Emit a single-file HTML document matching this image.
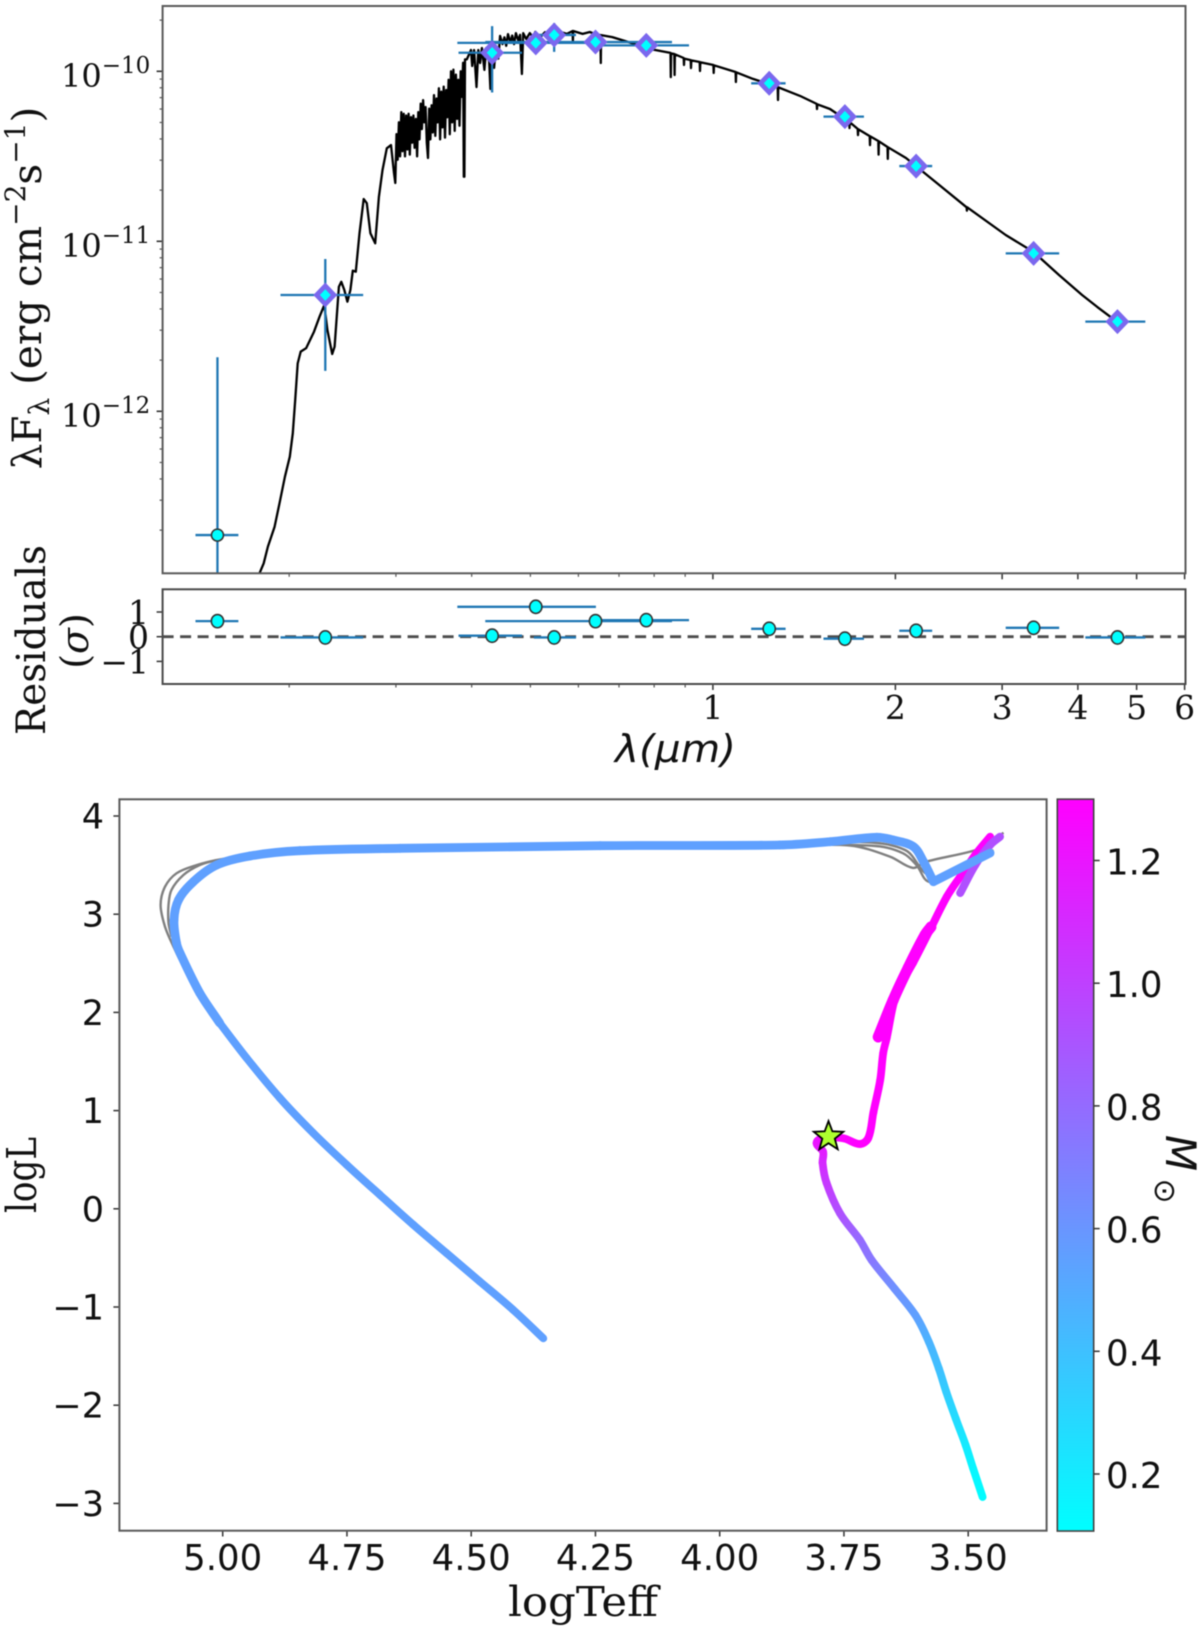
<!DOCTYPE html>
<html lang="en">
<head>
<meta charset="utf-8">
<title>SED fit and HR diagram</title>
<style>
html,body{margin:0;padding:0;background:#fff;width:1200px;height:1632px;overflow:hidden}
svg{display:block;filter:blur(0.6px)}
.serif{font-family:"DejaVu Serif","Liberation Serif",serif;fill:#111}
.sans{font-family:"DejaVu Sans","Liberation Sans",sans-serif;fill:#111}
</style>
</head>
<body>
<svg id="figure" xmlns="http://www.w3.org/2000/svg" width="1200" height="1632" viewBox="0 0 1200 1632">
<defs>
<clipPath id="sed-clip"><rect x="162.6" y="6" width="1022.9" height="567.3"/></clipPath>
<linearGradient id="cbar-gradient" x1="0" y1="1" x2="0" y2="0"><stop offset="0" stop-color="#00ffff"/><stop offset="1" stop-color="#ff00ff"/></linearGradient>
</defs>
<rect x="0" y="0" width="1200" height="1632" fill="#fff"/>
<g id="sed-layer"></g>
<g id="res-layer"></g>
<g id="hr-layer"></g>
<g id="cbar-layer"></g>

<rect x="162.6" y="6" width="1022.9" height="567.3" fill="none" stroke="#5a5a5a" stroke-width="2"/>
<rect x="162.6" y="589.3" width="1022.9" height="94.7" fill="none" stroke="#4a4a4a" stroke-width="2"/>
<rect x="119.4" y="799.3" width="927.2" height="731.4" fill="none" stroke="#5a5a5a" stroke-width="2"/>

<text class="serif" font-size="40.5" text-anchor="middle" transform="translate(41,288) rotate(-90)">λF<tspan font-size="28" dy="8">λ</tspan><tspan dy="-8"> (erg cm</tspan><tspan font-size="28" dy="-16">−2</tspan><tspan dy="16">s</tspan><tspan font-size="28" dy="-16">−1</tspan><tspan dy="16">)</tspan></text>
<text class="serif" font-size="40" text-anchor="middle" textLength="190" lengthAdjust="spacingAndGlyphs" transform="translate(45,640) rotate(-90)">Residuals</text>
<text class="serif" font-size="38" text-anchor="middle" transform="translate(88,641) rotate(-90)">(<tspan font-style="italic">σ</tspan>)</text>
<text class="sans" font-size="38" font-style="italic" x="615" y="762" textLength="121" lengthAdjust="spacingAndGlyphs">λ(μm)</text>
<text class="serif" font-size="41" x="508" y="1616" textLength="150" lengthAdjust="spacingAndGlyphs">logTeff</text>
<text class="serif" font-size="41" text-anchor="middle" textLength="76" lengthAdjust="spacingAndGlyphs" transform="translate(36,1175) rotate(-90)">logL</text>
<text class="sans" font-size="42" font-style="italic" text-anchor="middle" transform="translate(1166,1153) rotate(90)">M</text>
<text class="sans" font-size="30" text-anchor="middle" transform="translate(1155,1191) rotate(90)">⊙</text>

<script>
// ---------- SED photometry ----------
const photWave   = [0.1523,0.2294,0.4323,0.5103,0.5472,0.6402,0.7764,1.2385,1.651,2.164,3.381,4.649];
const photWaveLo = [0.1401,0.1935,0.3805,0.3788,0.5066,0.4212,0.6464,1.1565,1.522,2.030,3.041,4.115];
const photWaveHi = [0.1649,0.2649,0.4843,0.6412,0.5945,0.8561,0.9133,1.318,1.775,2.300,3.726,5.168];
const photFlux   = [1.87e-13,4.83e-12,1.285e-10,1.47e-10,1.636e-10,1.486e-10,1.42e-10,8.5e-11,5.41e-11,2.77e-11,8.49e-12,3.37e-12];
const photFluxHi = [2.08e-12,7.87e-12,1.845e-10,1.6e-10,1.92e-10,1.56e-10,1.48e-10,8.8e-11,5.6e-11,2.85e-11,8.7e-12,3.45e-12];
const photFluxLo = [1e-14,1.73e-12,7.5e-11,1.35e-10,1.30e-10,1.42e-10,1.36e-10,8.2e-11,5.2e-11,2.7e-11,8.3e-12,3.3e-12];
const photHasModel = [0,1,1,1,1,1,1,1,1,1,1,1];
const residuals  = [0.63,-0.03,0.04,1.21,-0.03,0.63,0.67,0.32,-0.08,0.24,0.36,-0.03];

// ---------- model spectrum (log10 wavelength / log10 flux) ----------
const modelLogWave = [-.748,-.741,-.734,-.723,-.715,-.706,-.698,-.693,-.689,-.685,-.680,-.671,-.658,-.649,-.641,-.636,-.628,-.624,-.617,-.613,-.608,-.603,-.598,-.594,-.589,-.583,-.576,-.571,-.565,-.557,-.551,-.545,-.538,-.531,-.526,-.524,
-.522,-.520,-.518,-.516,-.514,-.512,-.510,-.508,-.506,-.504,-.502,-.500,-.498,-.496,-.494,-.492,-.490,-.488,-.486,-.484,-.482,-.480,-.478,-.476,-.474,-.472,-.470,-.468,-.466,-.464,-.462,-.460,-.458,-.456,-.454,-.452,-.450,-.448,-.446,-.444,-.442,-.440,-.438,-.436,-.434,-.432,-.430,-.428,-.426,-.424,-.422,-.420,-.418,-.416,-.414,-.412,-.411,-.410,-.409,-.406,
-.399,-.397,-.394,-.390,-.387,-.384,-.381,-.377,-.374,-.369,-.367,-.364,-.361,-.358,-.354,
-.351,-.347,-.344,-.341,-.338,-.334,-.331,-.328,-.325,-.321,-.318,-.315,-.313,-.308,-.302,-.297,-.293,-.285,-.277,-.272,-.268,-.260,-.252,-.241,-.2315,-.231,-.2305,-.215,-.203,-.195,
-.1855,-.185,-.1845,-.166,-.145,-.104,
-.0700,-.0695,-.0690,-.0637,-.0632,-.0627,-.0482,-.0477,-.0472,-.0366,-.0361,-.0356,-.0218,-.0213,-.0208,.0008,.0013,.0018,.0374,.0379,.0384,.0661,.1069,.1074,.1079,.1437,.1712,.1717,.1722,.1932,.2248,.2253,.2258,.2388,.2393,.2398,.2586,.2591,.2596,.2728,.2733,.2738,.2880,.2885,.2890,.3186,.3693,.4185,.419,.4195,.483,.529,.571,.609,.634,.667];
const modelLogFlux = [-12.953,-12.894,-12.796,-12.679,-12.541,-12.385,-12.267,-12.129,-11.934,-11.718,-11.649,-11.629,-11.532,-11.444,-11.375,-11.522,-11.663,-11.620,-11.267,-11.238,-11.286,-11.355,-11.286,-11.173,-11.179,-10.953,-10.751,-10.776,-10.953,-11.012,-10.738,-10.581,-10.453,-10.434,-10.598,-10.657,
-10.37,-10.52,-10.30,-10.50,-10.24,-10.47,-10.25,-10.50,-10.26,-10.46,-10.25,-10.49,-10.27,-10.42,-10.26,-10.45,-10.28,-10.50,-10.24,-10.40,-10.19,-10.34,-10.17,-10.30,-10.21,-10.42,-10.51,-10.22,-10.40,-10.20,-10.36,-10.14,-10.38,-10.16,-10.30,-10.10,-10.40,-10.12,-10.33,-10.09,-10.39,-10.11,-10.27,-10.05,-10.37,-10.00,-10.30,-9.99,-10.35,-10.02,-10.28,-10.05,-10.32,-10.00,-10.15,-9.95,-10.62,-10.62,-9.93,-9.93,
-9.875,-9.969,-9.875,-10.093,-9.875,-9.951,-9.863,-9.992,-9.863,-9.945,-10.104,-9.857,-9.98,-9.85,-9.925,
-9.792,-9.84,-9.80,-9.85,-9.781,-9.83,-9.79,-9.84,-9.775,-9.82,-9.785,-10.016,-9.775,-9.81,-9.775,-9.80,-9.769,-9.80,-9.77,-9.80,-9.763,-9.785,-9.768,-9.78,-9.763,-9.822,-9.763,-9.78,-9.769,-9.78,
-9.787,-9.951,-9.787,-9.799,-9.822,-9.869,
-9.892,-10.034,-9.895,-9.898,-10.022,-9.90,-9.922,-9.963,-9.925,-9.934,-9.981,-9.936,-9.945,-9.998,-9.947,-9.963,-10.01,-9.965,-10.004,-10.063,-10.006,-10.045,-10.092,-10.169,-10.094,-10.145,-10.192,-10.222,-10.194,-10.222,-10.298,-10.334,-10.30,-10.339,-10.375,-10.341,-10.381,-10.434,-10.383,-10.41,-10.49,-10.412,-10.445,-10.515,-10.447,-10.51,-10.657,-10.80,-10.82,-10.80,-10.963,-11.063,-11.198,-11.316,-11.386,-11.474];

// ---------- SED axis tick values ----------
const sedYTickExp = [-10,-11,-12];
const sedYMinorMult = [2,3,4,5,6,7,8,9];
const waveMajor = [1,2,3,4,5,6];
const waveMinor = [0.2,0.3,0.4,0.5,0.6,0.7,0.8,0.9];
const resTicks = [1,0,-1];
const resTickLabels = ["1","0","−1"];

// ---------- HR diagram tracks ----------
const seqLogT = [3.471,3.490,3.505,3.525,3.544,3.559,3.579,3.606,3.648,3.694,3.718,3.758,3.785,3.793,3.792,3.805,3.792,3.751,3.718,3.701,3.691,3.677,3.671,3.664,3.644,3.611,3.577,3.543,3.516,3.483,3.456];
const seqLogL = [-2.935,-2.647,-2.408,-2.137,-1.866,-1.628,-1.356,-1.085,-.814,-.524,-.318,-.046,.263,.466,.581,.670,.721,.718,.660,.721,.976,1.312,1.587,1.739,2.197,2.503,2.839,3.178,3.382,3.623,3.789];
const seqMass = [.12,.15,.20,.27,.34,.40,.46,.55,.62,.74,.80,.92,1.03,1.10,1.16,1.2,1.24,1.28,1.3,1.3,1.3,1.3,1.3,1.3,1.3,1.3,1.3,1.3,1.3,1.3,1.3];
const eagbLogT = [3.681,3.651,3.621,3.587,3.575];
const eagbLogL = [1.749,2.126,2.452,2.788,2.87];
const eagbMass = [1.3,1.3,1.3,1.3,1.3];
const agbLogT = [3.516,3.486,3.456,3.436];
const agbLogL = [3.216,3.501,3.705,3.789];
const agbMass = [.93,.93,.93,.93];
const postLogT = [3.456,3.570,3.590,3.610,3.651,3.684,3.778,3.879,4.241,4.643,4.845,4.945,5.012,5.059,5.089,5.098,5.093,5.086,5.046,5.006,4.952,4.885,4.818,4.751,4.684,4.617,4.550,4.483,4.416,4.355];
const postLogL = [3.623,3.331,3.535,3.687,3.756,3.783,3.738,3.705,3.698,3.671,3.647,3.593,3.501,3.331,3.145,2.941,2.707,2.605,2.197,1.892,1.536,1.128,.772,.450,.144,-.161,-.450,-.738,-1.026,-1.319];
const postMass = [.55,.55,.55,.55,.55,.55,.55,.55,.55,.55,.55,.55,.55,.55,.55,.55,.55,.55,.55,.55,.55,.55,.55,.55,.55,.55,.55,.55,.55,.55];

const greyALogT = [5.046,5.082,5.099,5.116,5.125,5.116,5.093,5.052,5.012,4.925];
const greyALogL = [2.228,2.5,2.669,2.873,3.094,3.28,3.416,3.501,3.552,3.623];
const greyBLogT = [5.103,5.109,5.109,5.103,5.079,5.046,5.012];
const greyBLogL = [2.771,2.91,3.094,3.247,3.399,3.501,3.552];
const greyCLogT = [3.879,3.738,3.657,3.611,3.587,3.496,3.466,3.429];
const greyCLogL = [3.705,3.70,3.586,3.471,3.531,3.637,3.695,3.83];
const greyDLogT = [3.879,3.686,3.631,3.604,3.577,3.523,3.449];
const greyDLogL = [3.705,3.695,3.62,3.501,3.328,3.45,3.654];
const greyELogT = [3.879,3.718,3.627,3.587,3.557,3.517,3.460];
const greyELogL = [3.695,3.735,3.654,3.42,3.369,3.481,3.623];

const starLogT = [3.781];
const starLogL = [0.735];

const hrXTicks = [5.00,4.75,4.50,4.25,4.00,3.75,3.50];
const hrXTickLabels = ["5.00","4.75","4.50","4.25","4.00","3.75","3.50"];
const hrYTicks = [4,3,2,1,0,-1,-2,-3];
const hrYTickLabels = ["4","3","2","1","0","−1","−2","−3"];
const cbarTicks = [0.2,0.4,0.6,0.8,1.0,1.2];
const cbarTickLabels = ["0.2","0.4","0.6","0.8","1.0","1.2"];
const massMin = 0.107;
const massMax = 1.30;

// ---------- axis functions ----------
const xWave = w => 712.9 + 606.2 * Math.log10(w);
const xLogWave = lw => 712.9 + 606.2 * lw;
const ySedLog = lf => 71.3 - 170 * (lf + 10);
const ySed = f => ySedLog(Math.log10(f));
const yRes = r => 636.7 - 24.7 * r;
const xHR = t => 968.2 - 497 * (t - 3.5);
const yHR = l => 1208.8 - 98.2 * l;
const yCbar = m => 1474 - 613.5 * (m - 0.2);
const coolColor = m => {
  const t = Math.max(0, Math.min(1, (m - massMin) / (massMax - massMin)));
  return 'rgb(' + Math.round(255 * t) + ',' + Math.round(255 * (1 - t)) + ',255)';
};

const NS = 'http://www.w3.org/2000/svg';
function mk(parent, tag, attrs, text) {
  const e = document.createElementNS(NS, tag);
  for (const k in attrs) e.setAttribute(k, attrs[k]);
  if (text !== undefined) e.textContent = text;
  parent.appendChild(e);
  return e;
}
// smooth curve segment from point i to point i+1, tangents scaled by the chord length
function crSegment(px, py, i) {
  const n = px.length;
  const a = Math.max(0, i - 1), b = i, c = i + 1, d = Math.min(n - 1, i + 2);
  const chord = Math.hypot(px[c] - px[b], py[c] - py[b]);
  const l1 = Math.hypot(px[c] - px[a], py[c] - py[a]) || 1;
  const l2 = Math.hypot(px[d] - px[b], py[d] - py[b]) || 1;
  const c1x = px[b] + (px[c] - px[a]) / l1 * chord / 3, c1y = py[b] + (py[c] - py[a]) / l1 * chord / 3;
  const c2x = px[c] - (px[d] - px[b]) / l2 * chord / 3, c2y = py[c] - (py[d] - py[b]) / l2 * chord / 3;
  return 'C' + c1x.toFixed(1) + ' ' + c1y.toFixed(1) + ' ' + c2x.toFixed(1) + ' ' + c2y.toFixed(1) + ' ' + px[c].toFixed(1) + ' ' + py[c].toFixed(1);
}
const sed = document.getElementById('sed-layer');
const res = document.getElementById('res-layer');
const hr = document.getElementById('hr-layer');
const cbar = document.getElementById('cbar-layer');
const defs = document.querySelector('defs');

// ---------- SED panel ----------
const modelPts = modelLogWave.map((lw, i) => xLogWave(lw).toFixed(1) + ',' + ySedLog(modelLogFlux[i]).toFixed(1)).join(' ');
const modelLine = mk(sed, 'polyline', {points: modelPts, fill: 'none', stroke: '#000', 'stroke-width': 2.3, 'stroke-linejoin': 'round', 'clip-path': 'url(#sed-clip)'});



photWave.forEach((w, i) => {
  const x = xWave(w), y = ySed(photFlux[i]);
  const ex = mk(sed, 'line', {x1: xWave(photWaveLo[i]), x2: xWave(photWaveHi[i]), y1: y, y2: y, stroke: '#1f77b4', 'stroke-width': 2.3, 'clip-path': 'url(#sed-clip)'});
  
  
  const ey = mk(sed, 'line', {x1: x, x2: x, y1: ySed(photFluxHi[i]), y2: ySed(photFluxLo[i]), stroke: '#1f77b4', 'stroke-width': 2.3, 'clip-path': 'url(#sed-clip)'});
  
  
});
photWave.forEach((w, i) => {
  const x = xWave(w), y = ySed(photFlux[i]);
  const dot = mk(sed, 'circle', {cx: x, cy: y, r: 6, fill: '#00ffff', stroke: '#333', 'stroke-width': 1.5});
  
  
  if (photHasModel[i]) {
    const d = mk(sed, 'polygon', {points: [[x, y - 12.5], [x + 12, y], [x, y + 12.5], [x - 12, y]].join(' '), fill: '#7b68ee'});
    
    
    const core = mk(sed, 'polygon', {points: [[x, y - 5.8], [x + 5.4, y], [x, y + 5.8], [x - 5.4, y]].join(' '), fill: '#00ffff'});
    
    
  }
});

sedYTickExp.forEach(e => {
  const y = ySedLog(e);
  const t = mk(sed, 'line', {x1: 156.6, x2: 162.6, y1: y, y2: y, stroke: '#333', 'stroke-width': 1.6});
  
  
  const lab = mk(sed, 'text', {x: 61, y: y + 15.5, 'font-size': 32, class: 'serif'});
  
  
  const a = mk(lab, 'tspan', {}, '10');
  const b = mk(lab, 'tspan', {'font-size': 23, dy: -14}, '−' + Math.abs(e));
  
  
  
  
});
[-13, -12, -11, -10].forEach(e => sedYMinorMult.forEach(m => {
  const v = e + Math.log10(m), y = ySedLog(v);
  if (y < 6 || y > 573.3) return;
  const t = mk(sed, 'line', {x1: 159.6, x2: 162.6, y1: y, y2: y, stroke: '#555', 'stroke-width': 1.2});
  
  
}));

[[573.3, sed], [684, res]].forEach(([base, layer]) => {
  waveMajor.forEach(w => {
    const x = xWave(w);
    const t = mk(layer, 'line', {x1: x, x2: x, y1: base, y2: base + 6, stroke: '#333', 'stroke-width': 1.5});
    
    
  });
  waveMinor.forEach(w => {
    const x = xWave(w);
    const t = mk(layer, 'line', {x1: x, x2: x, y1: base, y2: base + 3.5, stroke: '#555', 'stroke-width': 1.2});
    
    
  });
});
waveMajor.forEach(w => {
  const lab = mk(res, 'text', {x: xWave(w), y: 719, 'font-size': 33, 'text-anchor': 'middle', class: 'serif'}, String(w));
  
  
});

// ---------- residual panel ----------
const zero = mk(res, 'line', {x1: 162.6, x2: 1185.5, y1: yRes(0), y2: yRes(0), stroke: '#4d4d4d', 'stroke-width': 2.8, 'stroke-dasharray': '11,6.5'});


residuals.forEach((r, i) => {
  const y = yRes(r);
  const ex = mk(res, 'line', {x1: xWave(photWaveLo[i]), x2: xWave(photWaveHi[i]), y1: y, y2: y, stroke: '#1f77b4', 'stroke-width': 2.3});
  
  
});
residuals.forEach((r, i) => {
  const dot = mk(res, 'ellipse', {cx: xWave(photWave[i]), cy: yRes(r), rx: 6.1, ry: 6.6, fill: '#00ffff', stroke: '#333', 'stroke-width': 1.6});
  
  
});
resTicks.forEach((v, i) => {
  const y = yRes(v);
  const t = mk(res, 'line', {x1: 156.6, x2: 162.6, y1: y, y2: y, stroke: '#333', 'stroke-width': 1.5});
  
  
  const lab = mk(res, 'text', {x: 149, y: y + 12, 'font-size': 33, 'text-anchor': 'end', class: 'serif'}, resTickLabels[i]);
  
  
});

// ---------- HR panel ----------
function greyTrack(ts, ls) {
  const px = ts.map(xHR), py = ls.map(yHR);
  let d = 'M' + px[0].toFixed(1) + ' ' + py[0].toFixed(1);
  for (let i = 0; i < px.length - 1; i++) d += crSegment(px, py, i);
  const p = mk(hr, 'path', {d: d, fill: 'none', stroke: '#808080', 'stroke-width': 2.4, 'stroke-linejoin': 'round'});
  
  
}
greyTrack(greyALogT, greyALogL);
greyTrack(greyBLogT, greyBLogL);
greyTrack(greyCLogT, greyCLogL);
greyTrack(greyDLogT, greyDLogL);
greyTrack(greyELogT, greyELogL);

let gradCount = 0;
function massTrack(ts, ls, ms, width) {
  const px = ts.map(xHR), py = ls.map(yHR);
  for (let i = 0; i < ts.length - 1; i++) {
    const id = 'seg-grad-' + (gradCount++);
    const g = mk(defs, 'linearGradient', {id: id, gradientUnits: 'userSpaceOnUse', x1: px[i], y1: py[i], x2: px[i + 1], y2: py[i + 1]});
    mk(g, 'stop', {offset: 0, 'stop-color': coolColor(ms[i])});
    mk(g, 'stop', {offset: 1, 'stop-color': coolColor(ms[i + 1])});
    const seg = mk(hr, 'path', {d: 'M' + px[i].toFixed(1) + ' ' + py[i].toFixed(1) + crSegment(px, py, i), stroke: 'url(#' + id + ')', 'stroke-width': width, 'stroke-linecap': 'round', fill: 'none'});
    
    
  }
}
massTrack(seqLogT, seqLogL, seqMass, 7.8);
massTrack(eagbLogT, eagbLogL, eagbMass, 11);
massTrack(agbLogT, agbLogL, agbMass, 8);
// the post-AGB track has a sharp corner at its second point and narrows on the cooling branch
massTrack(postLogT.slice(0, 2), postLogL.slice(0, 2), postMass.slice(0, 2), 8.8);
massTrack(postLogT.slice(1, 20), postLogL.slice(1, 20), postMass.slice(1, 20), 8.8);
massTrack(postLogT.slice(19), postLogL.slice(19), postMass.slice(19), 7.8);

const sx = xHR(starLogT[0]), sy = yHR(starLogL[0]);
const starPts = [];
for (let k = 0; k < 10; k++) {
  const r = k % 2 ? 6.6 : 15.5, a = -Math.PI / 2 + k * Math.PI / 5;
  starPts.push((sx + r * Math.cos(a)).toFixed(1) + ',' + (sy + r * Math.sin(a)).toFixed(1));
}
const star = mk(hr, 'polygon', {points: starPts.join(' '), fill: '#adff2f', stroke: '#000', 'stroke-width': 1.8});



hrXTicks.forEach((v, i) => {
  const x = xHR(v);
  const t = mk(hr, 'line', {x1: x, x2: x, y1: 1530.7, y2: 1536.5, stroke: '#333', 'stroke-width': 1.5});
  
  
  const lab = mk(hr, 'text', {x: x, y: 1570, 'font-size': 35.5, 'text-anchor': 'middle', class: 'sans'}, hrXTickLabels[i]);
  
  
});
hrYTicks.forEach((v, i) => {
  const y = yHR(v);
  const t = mk(hr, 'line', {x1: 113.4, x2: 119.4, y1: y, y2: y, stroke: '#333', 'stroke-width': 1.5});
  
  
  const lab = mk(hr, 'text', {x: 104, y: y + 12.5, 'font-size': 35, 'text-anchor': 'end', class: 'sans'}, hrYTickLabels[i]);
  
  
});

// ---------- colorbar ----------
const cbTop = yCbar(massMax), cbBot = yCbar(massMin);
const cbRect = mk(cbar, 'rect', {x: 1057.3, y: cbTop, width: 36.4, height: cbBot - cbTop, fill: 'url(#cbar-gradient)', stroke: '#444', 'stroke-width': 1.6});


cbarTicks.forEach((v, i) => {
  const y = yCbar(v);
  const t = mk(cbar, 'line', {x1: 1093.7, x2: 1099.7, y1: y, y2: y, stroke: '#333', 'stroke-width': 1.5});
  
  
  const lab = mk(cbar, 'text', {x: 1106, y: y + 14, 'font-size': 35.5, class: 'sans'}, cbarTickLabels[i]);
  
  
});
</script>
</svg>
</body>
</html>
